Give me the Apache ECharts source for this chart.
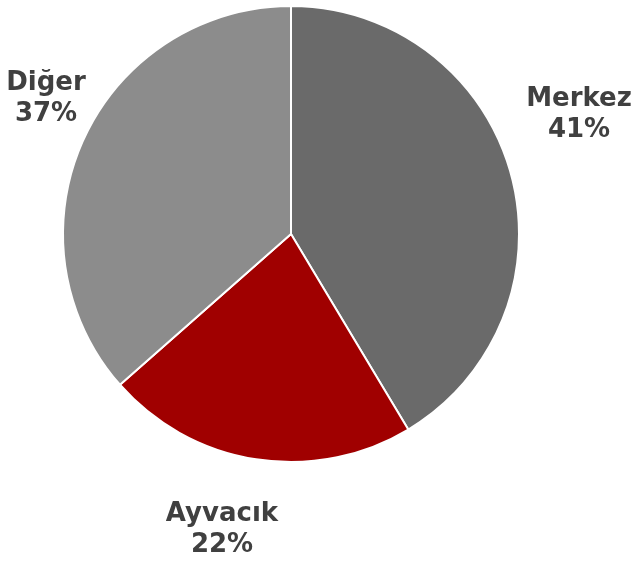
<!DOCTYPE html>
<html>
<head>
<meta charset="utf-8">
<script src="https://cdn.jsdelivr.net/npm/echarts@6/dist/echarts.min.js"></script>
<style>
html,body{margin:0;padding:0;background:#fff;}
#chart{width:633px;height:562px;}
</style>
</head>
<body>
<div id="chart"></div>
<script>
const categories = ["Merkez", "Ayvacık", "Diğer"];
const values = [41.4, 22.1, 36.5];
const colors = ["#6A6A6A", "#A00000", "#8C8C8C"];
const labelAnchors = [[579, 115], [222, 530], [46, 99]];

const chart = echarts.init(document.getElementById('chart'), null, {renderer: 'canvas'});
chart.setOption({
  animation: false,
  series: [{
    type: 'pie',
    center: [291, 234],
    radius: [0, 228],
    startAngle: 90,
    clockwise: true,
    data: categories.map((c, i) => ({name: c, value: values[i], itemStyle: {color: colors[i]}})),
    itemStyle: {borderColor: '#ffffff', borderWidth: 2},
    label: {
      show: true,
      position: 'outside',
      formatter: p => p.name + '\n' + Math.round(p.value) + '%',
      fontFamily: 'DejaVu Sans',
      fontWeight: 'bold',
      fontSize: 26,
      lineHeight: 31,
      color: '#404040',
      align: 'center',
      overflow: 'none'
    },
    labelLine: {show: false},
    labelLayout: function (p) {
      const a = labelAnchors[p.dataIndex];
      return {x: a[0], y: a[1], align: 'center', verticalAlign: 'middle', hideOverlap: false};
    },
    emphasis: {disabled: true}
  }]
});
</script>
</body>
</html>
